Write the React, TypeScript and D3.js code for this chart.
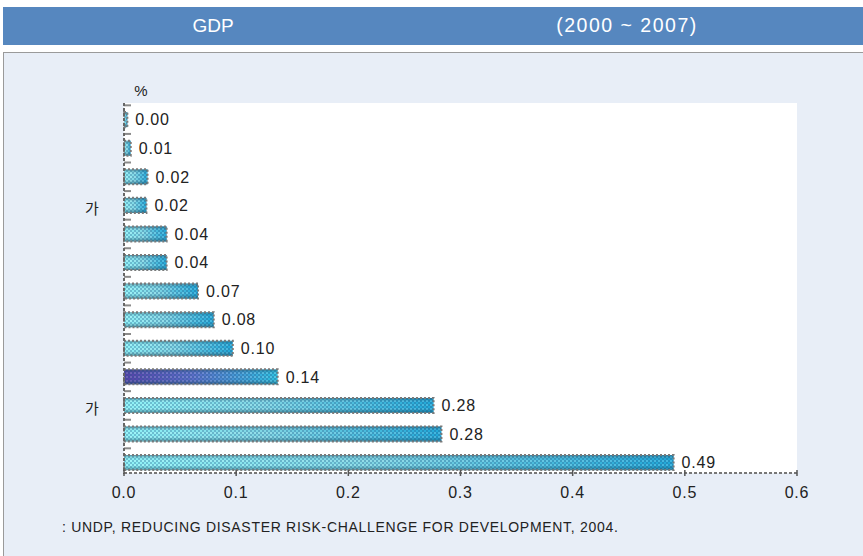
import React from "react";
import * as d3 from "d3";

// values (share of GDP, %)
const categories = ["c1", "c2", "c3", "c4", "c5", "c6", "c7", "c8", "c9", "c10", "c11", "c12", "c13"];
const categoryLabels = ["", "", "", "가", "", "", "", "", "", "", "가", "", ""];
const values = [0.003, 0.006, 0.021, 0.02, 0.038, 0.038, 0.066, 0.08, 0.097, 0.137, 0.276, 0.283, 0.49];
const highlighted = ["c10"];
const xTicks = [0, 0.1, 0.2, 0.3, 0.4, 0.5, 0.6];

const W = 863;
const H = 556;
const font = "'Liberation Sans', Arial, sans-serif";

export default function App() {
  const x = d3.scaleLinear().domain([0, 0.6]).range([124, 797]);
  const y = d3
    .scaleBand<string>()
    .domain(categories)
    .range([103, 473])
    .paddingInner(0.475)
    .paddingOuter(0.21)
    .align(0.76);
  const fmt = d3.format(".2f");
  const step = y.step();
  const bw = y.bandwidth();

  return (
    <svg width={W} height={H} style={{ position: "absolute", left: 0, top: 0 }}>
      <defs>
        <linearGradient id="gBar" x1="0" x2="1" y1="0" y2="0">
          <stop offset="0" stopColor="#8ef3f7" />
          <stop offset="0.45" stopColor="#7fd6e4" />
          <stop offset="1" stopColor="#1fa8d8" />
        </linearGradient>
        <linearGradient id="gHi" x1="0" x2="1" y1="0" y2="0">
          <stop offset="0" stopColor="#5440a8" />
          <stop offset="0.45" stopColor="#5a6cc8" />
          <stop offset="1" stopColor="#2cc0e0" />
        </linearGradient>
        <linearGradient id="gShade" x1="0" x2="0" y1="0" y2="1">
          <stop offset="0" stopColor="#1a4a60" stopOpacity="0.45" />
          <stop offset="0.25" stopColor="#1a4a60" stopOpacity="0" />
          <stop offset="0.7" stopColor="#1a4a60" stopOpacity="0" />
          <stop offset="1" stopColor="#1a4a60" stopOpacity="0.55" />
        </linearGradient>
        <pattern id="checker" width="4" height="4" patternUnits="userSpaceOnUse">
          <rect x="0" y="0" width="2" height="2" fill="#2a5c8a" fillOpacity="0.32" />
          <rect x="2" y="2" width="2" height="2" fill="#2a5c8a" fillOpacity="0.32" />
          <rect x="2" y="0" width="2" height="2" fill="#ffffff" fillOpacity="0.15" />
        </pattern>
      </defs>

      {/* title bar */}
      <rect x={3} y={7} width={W - 3} height={38} fill="#5687bf" />
      <text x={213} y={32} textAnchor="middle" fill="#fff" fontFamily={font} fontSize={19}>
        GDP
      </text>
      <text x={627} y={32} textAnchor="middle" fill="#fff" fontFamily={font} fontSize={19.5} letterSpacing={1.5}>
        (2000 ~ 2007)
      </text>

      {/* panel */}
      <rect x={3.5} y={52.5} width={W} height={H} fill="#e8eef7" stroke="#9a9a9a" />

      {/* plot area */}
      <rect x={x(0)} y={103} width={x(0.6) - x(0)} height={370} fill="#fff" />

      {/* bars */}
      {categories.map((c, i) => {
        const y0 = y(c) as number;
        const w = x(values[i]) - x(0);
        const hi = highlighted.includes(c);
        return (
          <g key={c}>
            <rect x={x(0)} y={y0} width={w} height={bw} fill={hi ? "url(#gHi)" : "url(#gBar)"} />
            <rect x={x(0)} y={y0} width={w} height={bw} fill="url(#checker)" />
            <rect x={x(0)} y={y0} width={w} height={bw} fill="url(#gShade)" />
            <rect
              x={x(0)}
              y={y0}
              width={w}
              height={bw}
              fill="none"
              stroke="#7a7a7a"
              strokeWidth={2}
              strokeDasharray="2 2"
            />
            <text
              x={x(values[i]) + 8}
              y={y0 + bw / 2}
              dy="0.36em"
              fontFamily={font}
              fontSize={16}
              letterSpacing={0.8}
              fill="#222"
            >
              {fmt(values[i])}
            </text>
          </g>
        );
      })}

      {/* y-axis minor ticks between categories */}
      {categories.map((c) => {
        const yy = (y(c) as number) - (step - bw) / 2;
        return <line key={"t" + c} x1={x(0)} x2={x(0) + 7} y1={yy} y2={yy} stroke="#8a8a8a" strokeWidth={2} />;
      })}

      {/* category labels */}
      {categories.map((c, i) =>
        categoryLabels[i] ? (
          <text
            key={"l" + c}
            x={92}
            y={(y(c) as number) + bw / 2 + 3}
            dy="0.36em"
            textAnchor="middle"
            fontFamily="'Noto Sans CJK KR', sans-serif"
            fontSize={15}
            fill="#222"
          >
            {categoryLabels[i]}
          </text>
        ) : null
      )}

      {/* axes */}
      <line x1={x(0)} x2={x(0)} y1={103} y2={474} stroke="#666" strokeWidth={2} strokeDasharray="3 2" />
      <line x1={x(0)} x2={x(0.6)} y1={473} y2={473} stroke="#777" strokeWidth={2} strokeDasharray="3 2" />
      {xTicks.map((t) => (
        <g key={"x" + t}>
          <line x1={x(t)} x2={x(t)} y1={470} y2={476} stroke="#555" strokeWidth={1.5} />
          <text x={x(t)} y={498} textAnchor="middle" fontFamily={font} fontSize={16} letterSpacing={0.8} fill="#222">
            {d3.format(".1f")(t)}
          </text>
        </g>
      ))}

      <text x={141} y={96} textAnchor="middle" fontFamily={font} fontSize={15} fill="#222">
        %
      </text>

      {/* source */}
      <text x={62} y={532} fontFamily={font} fontSize={14} letterSpacing={0.7} fill="#222">
        : UNDP, REDUCING DISASTER RISK-CHALLENGE FOR DEVELOPMENT, 2004.
      </text>
    </svg>
  );
}
